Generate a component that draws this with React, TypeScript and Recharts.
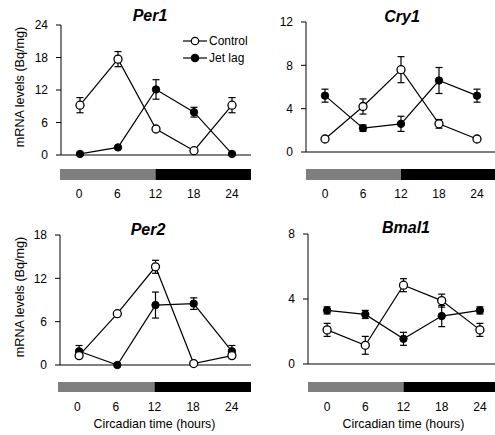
import React from 'react';
import { ComposedChart, Line, Area, XAxis, YAxis, ErrorBar, Legend } from 'recharts';

// ---------- data ----------
const hours = [0, 6, 12, 18, 24];
const bandEdges = [-3, 3, 9, 15, 21, 27];
const xDomain: [number, number] = [-3, 27];
// light / dark phase strip: light from -3 to 12, dark from 12 to 27 (full strip height = 1)
const phaseBoundaries = [-3, 12, 27];
const lightPhase = [1, 1, null];
const darkPhase = [null, 1, 1];
const phaseColors = ['#7f7f7f', '#000000'];

const seriesNames = ['Control', 'Jet lag'];

const per1Control = [9.2, 17.7, 4.8, 0.8, 9.2];
const per1ControlErr = [1.4, 1.4, 0, 0, 1.4];
const per1JetLag = [0.2, 1.4, 12.1, 7.9, 0.2];
const per1JetLagErr = [0, 0, 1.8, 0.9, 0];

const cry1Control = [1.2, 4.2, 7.6, 2.6, 1.2];
const cry1ControlErr = [0, 0.7, 1.2, 0.4, 0];
const cry1JetLag = [5.2, 2.2, 2.6, 6.6, 5.2];
const cry1JetLagErr = [0.6, 0.3, 0.7, 1.2, 0.6];

const per2Control = [1.3, 7.1, 13.6, 0.2, 1.3];
const per2ControlErr = [0, 0, 0.9, 0, 0];
const per2JetLag = [1.9, 0, 8.3, 8.5, 1.9];
const per2JetLagErr = [0.8, 0, 1.8, 0.8, 0.8];

const bmal1Control = [2.1, 1.15, 4.85, 3.9, 2.1];
const bmal1ControlErr = [0.4, 0.55, 0.4, 0.4, 0.4];
const bmal1JetLag = [3.3, 3.05, 1.55, 2.95, 3.3];
const bmal1JetLagErr = [0.22, 0.25, 0.4, 0.65, 0.22];

const per1Ticks = [0, 6, 12, 18, 24];
const cry1Ticks = [0, 4, 8, 12];
const per2Ticks = [0, 6, 12, 18];
const bmal1Ticks = [0, 4, 8];

const yLabel = 'mRNA levels (Bq/mg)';
const xTitle = 'Circadian time (hours)';

// ---------- layout ----------
const FONT = '"Liberation Sans", Arial, sans-serif';

type Panel = {
  gene: string;
  control: number[];
  controlErr: number[];
  jet: number[];
  jetErr: number[];
  yTicks: number[];
  left: number;
  yAxisWidth: number;
  plotTop: number;
  plotBottom: number;
  plotRight: number;
  barLeft: number;
  barTop: number;
  barBottom: number;
  tickMargin: number;
  titleX: number;
  titleY: number;
  showYLabel: boolean;
  showLegend: boolean;
  showXTitle: boolean;
};

const panels: Panel[] = [
  {
    gene: 'Per1', control: per1Control, controlErr: per1ControlErr, jet: per1JetLag, jetErr: per1JetLagErr,
    yTicks: per1Ticks, left: 0, yAxisWidth: 61, plotTop: 25, plotBottom: 155, plotRight: 251,
    barLeft: 60, barTop: 169, barBottom: 180, tickMargin: 9, titleX: 150, titleY: 16,
    showYLabel: true, showLegend: true, showXTitle: false,
  },
  {
    gene: 'Cry1', control: cry1Control, controlErr: cry1ControlErr, jet: cry1JetLag, jetErr: cry1JetLagErr,
    yTicks: cry1Ticks, left: 245, yAxisWidth: 61, plotTop: 22, plotBottom: 152, plotRight: 496,
    barLeft: 306, barTop: 169, barBottom: 180, tickMargin: 9, titleX: 402, titleY: 17,
    showYLabel: false, showLegend: false, showXTitle: false,
  },
  {
    gene: 'Per2', control: per2Control, controlErr: per2ControlErr, jet: per2JetLag, jetErr: per2JetLagErr,
    yTicks: per2Ticks, left: 0, yAxisWidth: 60, plotTop: 235, plotBottom: 365, plotRight: 251,
    barLeft: 58, barTop: 382, barBottom: 392, tickMargin: 10, titleX: 148, titleY: 230,
    showYLabel: true, showLegend: false, showXTitle: true,
  },
  {
    gene: 'Bmal1', control: bmal1Control, controlErr: bmal1ControlErr, jet: bmal1JetLag, jetErr: bmal1JetLagErr,
    yTicks: bmal1Ticks, left: 245, yAxisWidth: 63, plotTop: 234, plotBottom: 364, plotRight: 499,
    barLeft: 308, barTop: 382, barBottom: 392, tickMargin: 10, titleX: 406, titleY: 228,
    showYLabel: false, showLegend: false, showXTitle: true,
  },
];

const markerFill: Record<string, string> = { control: '#ffffff', jet: '#000000' };
const legendOrder = ['control', 'jet'];

function LegendContent(props: any) {
  const items = [...(props.payload || [])]
    .filter((it: any) => legendOrder.indexOf(it.dataKey) >= 0)
    .sort((a: any, b: any) => legendOrder.indexOf(a.dataKey) - legendOrder.indexOf(b.dataKey));
  return (
    <div style={{ fontFamily: FONT, fontSize: 12, color: '#000' }}>
      {items.map((it: any) => (
        <div key={String(it.dataKey)} style={{ display: 'flex', alignItems: 'center', height: 17 }}>
          <svg width={26} height={10} style={{ display: 'block' }}>
            <line x1={0} y1={5} x2={24} y2={5} stroke="#000" strokeWidth={1.2} />
            <circle cx={12} cy={5} r={3.7} fill={markerFill[it.dataKey]} stroke="#000" strokeWidth={1.2} />
          </svg>
          <span style={{ whiteSpace: 'nowrap' }}>{it.value}</span>
        </div>
      ))}
    </div>
  );
}

const phaseRows = phaseBoundaries.map((t, i) => ({ t, light: lightPhase[i], dark: darkPhase[i] }));

function PanelView({ p }: { p: Panel }) {
  const rows = hours.map((t, i) => ({
    t,
    control: p.control[i],
    controlErr: p.controlErr[i],
    jet: p.jet[i],
    jetErr: p.jetErr[i],
  }));
  const yMax = p.yTicks[p.yTicks.length - 1];
  const topPad = 20;
  const rightPad = 4;
  const chartWidth = p.plotRight - p.left + rightPad;
  const xAxisH = 6;
  const mainHeight = topPad + (p.plotBottom - p.plotTop) + xAxisH;
  const barH = p.barBottom - p.barTop;
  const stripAxisH = p.showXTitle ? 40 : 24;
  const stripHeight = 2 + barH + stripAxisH;
  const stripLeft = p.barLeft - p.left;
  const stripWidth = p.plotRight - p.left + rightPad;

  return (
    <>
      <div style={{ position: 'absolute', left: p.left, top: p.plotTop - topPad }}>
        <ComposedChart
          width={chartWidth}
          height={mainHeight}
          data={rows}
          margin={{ top: topPad, right: rightPad, bottom: 0, left: 0 }}
          style={{ fontFamily: FONT }}
        >
          <XAxis
            type="number"
            dataKey="t"
            domain={xDomain}
            ticks={bandEdges}
            tick={false}
            tickSize={4}
            height={xAxisH}
            stroke="#000"
            allowDataOverflow
          />
          <YAxis
            type="number"
            domain={[0, yMax]}
            ticks={p.yTicks}
            interval={0}
            tickSize={5}
            tickMargin={8}
            width={p.yAxisWidth}
            stroke="#000"
            tick={{ fill: '#000', fontSize: 12, fontFamily: FONT }}
            label={
              p.showYLabel
                ? {
                    value: yLabel,
                    angle: -90,
                    position: 'insideLeft',
                    offset: 20,
                    dy: -3,
                    style: { textAnchor: 'middle', fill: '#000', fontSize: 12.6, fontFamily: FONT },
                  }
                : undefined
            }
          />
          <Line
            dataKey="jet"
            name={seriesNames[1]}
            type="linear"
            stroke="#000"
            strokeWidth={1.2}
            dot={{ r: 3.7, fill: '#000', stroke: '#000', strokeWidth: 1 }}
            activeDot={false}
            isAnimationActive={false}
          >
            <ErrorBar dataKey="jetErr" direction="y" width={3.5} stroke="#000" strokeWidth={1.2} />
          </Line>
          <Line
            dataKey="control"
            name={seriesNames[0]}
            type="linear"
            stroke="#000"
            strokeWidth={1.2}
            dot={{ r: 4, fill: '#fff', stroke: '#000', strokeWidth: 1.3 }}
            activeDot={false}
            isAnimationActive={false}
          >
            <ErrorBar dataKey="controlErr" direction="y" width={3.5} stroke="#000" strokeWidth={1.2} />
          </Line>
          {p.showLegend && (
            <Legend
              layout="horizontal"
              verticalAlign="middle"
              align="center"
              content={<LegendContent />}
              wrapperStyle={{ left: 183 - p.left, top: 32.5 - (p.plotTop - topPad), width: 'auto' }}
            />
          )}
        </ComposedChart>
      </div>
      <div style={{ position: 'absolute', left: p.left, top: p.barTop - 2 }}>
        <ComposedChart
          width={stripWidth}
          height={stripHeight}
          data={phaseRows}
          margin={{ top: 2, right: rightPad, bottom: 0, left: stripLeft }}
          style={{ fontFamily: FONT }}
        >
          <XAxis
            type="number"
            dataKey="t"
            domain={xDomain}
            ticks={hours}
            interval={0}
            axisLine={false}
            tickLine={false}
            tickSize={0}
            tickMargin={p.tickMargin}
            height={stripAxisH}
            tick={{ fill: '#000', fontSize: 12, fontFamily: FONT }}
            allowDataOverflow
            label={
              p.showXTitle
                ? { value: xTitle, position: 'insideBottom', offset: 4, style: { fill: '#000', fontSize: 12.4, fontFamily: FONT } }
                : undefined
            }
          />
          <YAxis hide type="number" domain={[0, 1]} allowDataOverflow />
          <Area
            dataKey="light"
            type="linear"
            stroke="none"
            fill={phaseColors[0]}
            fillOpacity={1}
            dot={false}
            activeDot={false}
            legendType="none"
            isAnimationActive={false}
          />
          <Area
            dataKey="dark"
            type="linear"
            stroke="none"
            fill={phaseColors[1]}
            fillOpacity={1}
            dot={false}
            activeDot={false}
            legendType="none"
            isAnimationActive={false}
          />
        </ComposedChart>
      </div>
      <div
        style={{
          position: 'absolute',
          left: p.titleX - 50,
          top: p.titleY - 9,
          width: 100,
          height: 18,
          lineHeight: '18px',
          textAlign: 'center',
          fontFamily: FONT,
          fontSize: 16,
          fontWeight: 'bold',
          fontStyle: 'italic',
          color: '#000',
        }}
      >
        {p.gene}
      </div>
    </>
  );
}

export default function App() {
  return (
    <div
      style={{
        position: 'absolute',
        left: 0,
        top: 0,
        width: 495,
        height: 435,
        background: '#fff',
        overflow: 'hidden',
      }}
    >
      {panels.map((p) => (
        <PanelView key={p.gene} p={p} />
      ))}
    </div>
  );
}
